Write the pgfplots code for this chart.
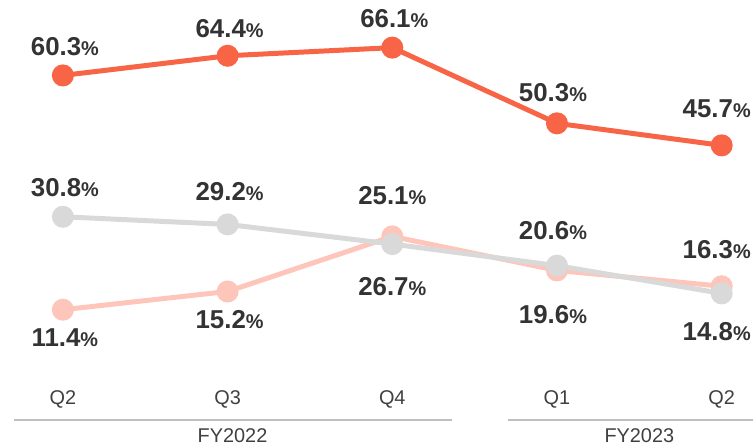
\documentclass[border=0pt]{standalone}
\usepackage{pgfplots}
\pgfplotsset{compat=1.18}
\usepackage{pgfplotstable}
\usepackage{fontspec}
\setmainfont{Liberation Sans}
\definecolor{cOrange}{HTML}{F86446}
\definecolor{cPink}{HTML}{FEC6BA}
\definecolor{cGray}{HTML}{D9D9D9}
\definecolor{cText}{HTML}{333333}
\definecolor{cTick}{HTML}{404040}
\definecolor{cRule}{HTML}{BFBFBF}

\pgfplotstableread{
x y off xoff
0 60.3 29 2
1 64.4 27 2
2 66.1 29 2
3 50.3 31 -4
4 45.7 37 -5
}\seriesA
\pgfplotstableread{
x y off xoff
0 30.8 29 2
1 29.2 33 2
2 25.1 49 0
3 20.6 35 -4
4 14.8 -38 -5
}\seriesB
\pgfplotstableread{
x y off xoff
0 11.4 -28 2
1 15.2 -28 2
2 26.7 -50 0
3 19.6 -44 -4
4 16.3 37 -5
}\seriesC

\begin{document}
\begin{tikzpicture}
\begin{axis}[
  scale only axis, width=754bp, height=446bp,
  xmin=-0.3818, xmax=4.1879, ymin=-16.875, ymax=76.04,
  axis line style={draw=none}, tick style={draw=none}, major tick length=0pt,
  ytick=\empty, xtick={0,1,2,3,4}, xticklabels={Q2,Q3,Q4,Q1,Q2},
  xticklabel style={anchor=center, yshift=46bp, font=\fontsize{20}{20}\selectfont, text=cTick},
  clip=false,
  /pgf/number format/assume math mode=true,
  nodes near coords={\pgfmathprintnumber[fixed,fixed zerofill,precision=1]{\pgfplotspointmeta}{\fontsize{20}{20}\selectfont\%}},
  visualization depends on={\thisrow{off} \as \myoff},
  visualization depends on={\thisrow{xoff} \as \myxoff},
  every node near coord/.append style={anchor=center, yshift=\myoff bp, xshift=\myxoff bp, font=\bfseries\fontsize{26}{26}\selectfont, text=cText},
]
\addplot[cPink, line width=5bp, mark=*, mark size=8.5bp, mark options={fill=cPink, draw=none}] table[x=x,y=y] {\seriesC};
\addplot[cGray, line width=5bp, mark=*, mark size=8.5bp, mark options={fill=cGray, draw=none}] table[x=x,y=y] {\seriesB};
\addplot[cOrange, line width=5bp, mark=*, mark size=8.5bp, mark options={fill=cOrange, draw=none}] table[x=x,y=y] {\seriesA};
\draw[cRule, line width=2bp] (axis cs:-0.297,-11.67) -- (axis cs:2.364,-11.67);
\draw[cRule, line width=2bp] (axis cs:2.703,-11.67) -- (axis cs:4.1879,-11.67);
\node[text=cTick, font=\fontsize{20}{20}\selectfont] at (axis cs:1.03,-14.95) {FY2022};
\node[text=cTick, font=\fontsize{20}{20}\selectfont] at (axis cs:3.5,-14.95) {FY2023};
\end{axis}
\end{tikzpicture}
\end{document}
